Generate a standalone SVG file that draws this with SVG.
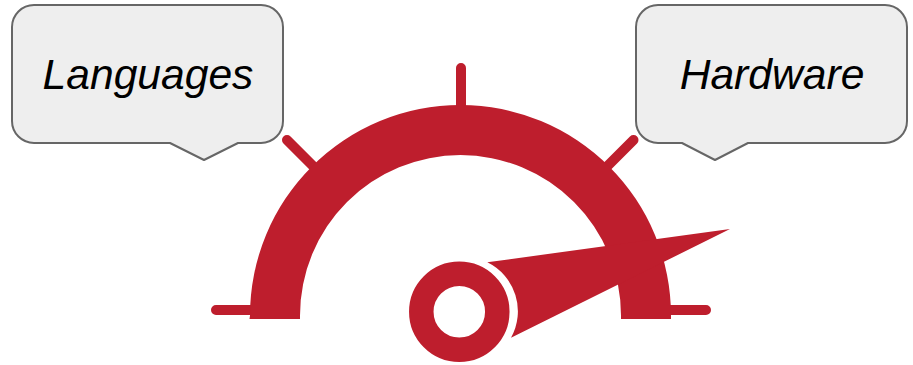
<svg xmlns="http://www.w3.org/2000/svg" width="913" height="365" viewBox="0 0 913 365">
<style>
.callout{fill:#eeeeee;stroke:#666666;stroke-width:2;stroke-linejoin:round}
.label{font-family:"Liberation Sans",Arial,sans-serif;font-style:italic;font-size:42.6px;fill:#000;text-anchor:middle}
.red{fill:#be1e2d}
.tick{stroke:#be1e2d;stroke-width:10;stroke-linecap:round;fill:none}
</style>
<rect width="913" height="365" fill="#ffffff"/>
<g id="gauge">
<path class="tick" d="M216 310H255M461 68V110M287 140L317 170M706 310H666M633.500 140L603.500 170"/>
<path class="red" d="M249.500 319L250 315.500A210.500 210.500 0 0 1 671 315.500L671 319H621L621 315.500A160.500 160.500 0 0 0 300 315.500L300 319Z"/>
</g>
<g id="needle">
<path class="red" d="M730 229L487.300 262.300A54.500 54.500 0 0 1 511 337.800Z"/>
<circle cx="459.300" cy="311.700" r="38" fill="none" stroke="#be1e2d" stroke-width="24.500"/>
</g>
<g id="languages">
<path class="callout" d="M34 5H261A22 22 0 0 1 283 27V121A22 22 0 0 1 261 143H238L204 160L170 143H34A22 22 0 0 1 12 121V27A22 22 0 0 1 34 5Z"/>
<text class="label" x="148" y="89">Languages</text>
</g>
<g id="hardware">
<path class="callout" d="M658 5H885A22 22 0 0 1 907 27V121A22 22 0 0 1 885 143H748L715 160L682 143H658A22 22 0 0 1 636 121V27A22 22 0 0 1 658 5Z"/>
<text class="label" x="772" y="89">Hardware</text>
</g>
</svg>
